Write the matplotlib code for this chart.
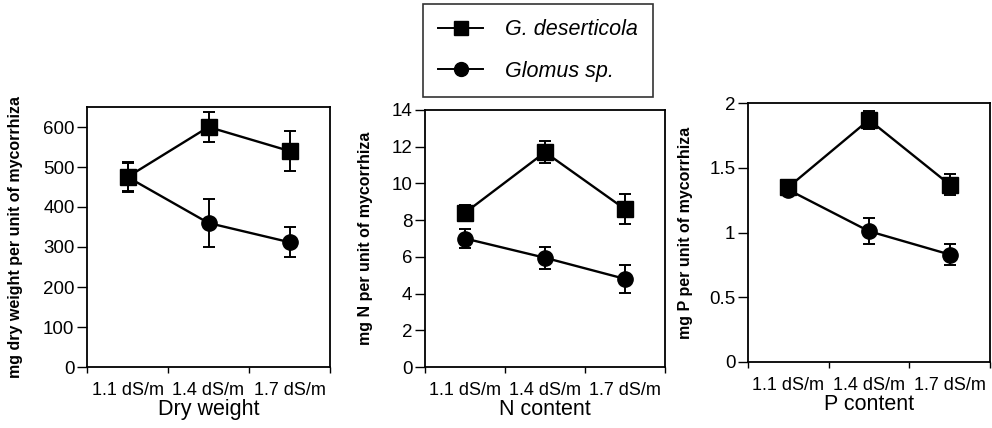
import matplotlib
matplotlib.use("Agg")
import matplotlib.pyplot as plt
from matplotlib.lines import Line2D

plt.rcParams['font.family'] = ['Liberation Sans', 'DejaVu Sans']

salinity = ['1.1 dS/m', '1.4 dS/m', '1.7 dS/m']
series = ['G. deserticola', 'Glomus sp.']

dry_gd = [475, 600, 540]
dry_gd_err = [38, 38, 50]
dry_gl = [475, 360, 312]
dry_gl_err = [35, 60, 37]

n_gd = [8.4, 11.7, 8.6]
n_gd_err = [0.45, 0.6, 0.8]
n_gl = [7.0, 5.95, 4.8]
n_gl_err = [0.5, 0.6, 0.75]

p_gd = [1.35, 1.87, 1.37]
p_gd_err = [0.04, 0.07, 0.08]
p_gl = [1.33, 1.01, 0.83]
p_gl_err = [0.04, 0.1, 0.08]

panels = [
  ('Dry weight', 'mg dry weight per unit of mycorrhiza', dry_gd, dry_gd_err, dry_gl, dry_gl_err,
   (0, 650), [0, 100, 200, 300, 400, 500, 600], ['0', '100', '200', '300', '400', '500', '600']),
  ('N content', 'mg N per unit of mycorrhiza', n_gd, n_gd_err, n_gl, n_gl_err,
   (0, 14), [0, 2, 4, 6, 8, 10, 12, 14], ['0', '2', '4', '6', '8', '10', '12', '14']),
  ('P content', 'mg P per unit of mycorrhiza', p_gd, p_gd_err, p_gl, p_gl_err,
   (0, 2), [0, 0.5, 1, 1.5, 2], ['0', '0.5', '1', '1.5', '2']),
]

# axes boxes in pixels (left, bottom, right, top), ylabel x centre
boxes = [(87, 367, 330, 107, 23), (425, 367, 665, 110, 373), (748, 362, 990, 103, 693)]

W, H = 992, 428
fig = plt.figure(figsize=(W / 100, H / 100), dpi=100)

xs = [0.5, 1.5, 2.5]
for (xlab, ylab, gd, gde, gl, gle, ylim, yt, ytl), (l, b, r, t, yx) in zip(panels, boxes):
  ax = fig.add_axes([l / W, 1 - b / H, (r - l) / W, (b - t) / H])
  ax.errorbar(xs, gl, yerr=gle, color='black', marker='o', markersize=11, lw=1.7,
              capsize=4, elinewidth=1.4, capthick=1.4)
  ax.errorbar(xs, gd, yerr=gde, color='black', marker='s', markersize=11, lw=1.7,
              capsize=4, elinewidth=1.4, capthick=1.4)
  ax.set_xlim(0, 3)
  ax.set_ylim(*ylim)
  ax.set_yticks(yt)
  ax.set_yticklabels(ytl, fontsize=13.5)
  ax.set_xticks([0, 1, 2, 3])
  ax.set_xticklabels([])
  ax.set_xticks(xs, minor=True)
  ax.set_xticklabels(salinity, minor=True, fontsize=13)
  ax.tick_params(axis='x', which='minor', length=0, pad=11)
  ax.tick_params(axis='x', which='major', length=4, width=1, direction='out')
  ax.tick_params(axis='y', length=7.5, width=1, direction='out', pad=1.5)
  for s in ax.spines.values():
    s.set_linewidth(1.3)
  ax.set_xlabel(xlab, fontsize=15.5, labelpad=0)
  ax.set_ylabel(ylab, fontsize=11.5, fontweight='bold')
  ax.yaxis.set_label_coords((yx - l) / (r - l), 0.5)

handles = [
  Line2D([], [], color='black', marker='s', markersize=10, lw=1.4),
  Line2D([], [], color='black', marker='o', markersize=10, lw=1.4),
]
leg = fig.legend(handles, series, loc='upper left', bbox_to_anchor=(423 / W, 1 - 4 / H),
                 borderaxespad=0, frameon=True, fancybox=False, edgecolor='black',
                 handlelength=2.1, borderpad=0.7, labelspacing=0.95, handletextpad=1.0,
                 prop={'size': 15.5, 'style': 'italic'})
leg.get_frame().set_linewidth(1.2)

fig.savefig('out.png', dpi=100)
